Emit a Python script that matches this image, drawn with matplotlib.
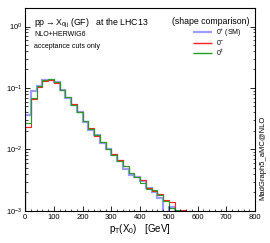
import matplotlib
matplotlib.use('Agg')
import matplotlib.pyplot as plt
import numpy as np
from matplotlib.ticker import MultipleLocator, LogLocator, NullFormatter

plt.rcParams['font.family'] = ['Liberation Sans', 'DejaVu Sans']
plt.rcParams['mathtext.fontset'] = 'custom'
plt.rcParams['mathtext.rm'] = 'Liberation Sans'
plt.rcParams['mathtext.it'] = 'Liberation Sans'

# bins in pT(X0), 20 GeV wide
bin_edges = list(range(0, 580, 20))

# normalised distributions (0 = empty bin)
sm_plus = [0.0357, 0.088, 0.106, 0.133, 0.137, 0.124, 0.094, 0.070, 0.053, 0.041,
           0.028, 0.0208, 0.0169, 0.0128, 0.0102, 0.0080, 0.0066, 0.0048, 0.0038, 0.0036,
           0.0031, 0.0024, 0.0020, 0.0016, 0, 0.00117, 0, 0]
zero_minus = [0.0228, 0.067, 0.103, 0.131, 0.136, 0.121, 0.094, 0.071, 0.054, 0.040,
              0.029, 0.022, 0.0167, 0.0134, 0.0103, 0.0083, 0.0067, 0.0053, 0.0041, 0.0036,
              0.0032, 0.0024, 0.0021, 0.0019, 0.0015, 0.0014, 0, 0.00104]
zero_mix = [0.027, 0.070, 0.106, 0.134, 0.140, 0.125, 0.094, 0.071, 0.053, 0.041,
            0.0285, 0.0218, 0.0172, 0.0132, 0.0101, 0.0082, 0.0065, 0.0053, 0.0041, 0.0035,
            0.0028, 0.0023, 0.0022, 0.0018, 0.00147, 0.0011, 0.00103, 0]

labels = ['0$^{+}$ (SM)', '0$^{-}$', '0$^{\\pm}$']
colors = ['#9c9cff', '#ff2020', '#20a020']
widths = [1.6, 0.8, 0.8]

fig = plt.figure(figsize=(2.7, 2.43), dpi=100)
ax = fig.add_axes([0.0926, 0.132, 0.852, 0.835])

floor = 1e-6
for vals, c, lw in zip([sm_plus, zero_minus, zero_mix], colors, widths):
    v = np.array(vals, dtype=float)
    v[v <= 0] = floor
    ax.stairs(v, bin_edges, color=c, lw=lw, baseline=floor)

ax.set_yscale('log')
ax.set_xlim(0, 800)
ax.set_ylim(1e-3, 2)

ax.xaxis.set_major_locator(MultipleLocator(100))
ax.xaxis.set_minor_locator(MultipleLocator(20))
ax.yaxis.set_major_locator(LogLocator(base=10, numticks=10))
ax.yaxis.set_minor_locator(LogLocator(base=10, subs=np.arange(2, 10), numticks=10))
ax.yaxis.set_minor_formatter(NullFormatter())
ax.tick_params(which='both', direction='in', right=True, top=False, labelsize=5.5, pad=2)
ax.tick_params(which='major', length=3.5, width=0.6)
ax.tick_params(which='minor', length=1.8, width=0.5)
for s in ax.spines.values():
    s.set_linewidth(0.8)

ax.set_xlabel('p$_{\\mathrm{T}}$(X$_{0}$)   [GeV]', fontsize=7, labelpad=1)

# texts
ax.text(0.04, 0.955, 'pp$\\rightarrow$X$_{0jj}$ (GF)   at the LHC13', transform=ax.transAxes,
        fontsize=6.3, va='top', ha='left')
ax.text(0.975, 0.955, '(shape comparison)', transform=ax.transAxes,
        fontsize=6.3, va='top', ha='right')
ax.text(0.04, 0.885, 'NLO+HERWIG6', transform=ax.transAxes, fontsize=5, va='top', ha='left')
ax.text(0.04, 0.83, 'acceptance cuts only', transform=ax.transAxes, fontsize=5, va='top', ha='left')

leg_y = [0.88, 0.83, 0.78]
for lab, c, lw, y in zip(labels, colors, widths, leg_y):
    ax.plot([0.73, 0.815], [y, y], transform=ax.transAxes, color=c, lw=max(lw, 1.0),
            solid_capstyle='butt')
    ax.text(0.83, y, lab, transform=ax.transAxes, fontsize=5, va='center', ha='left')

fig.text(0.972, 0.35, 'MadGraph5_aMC@NLO', rotation=90, fontsize=5.5, va='center', ha='center')

fig.savefig('out.png', dpi=100)
